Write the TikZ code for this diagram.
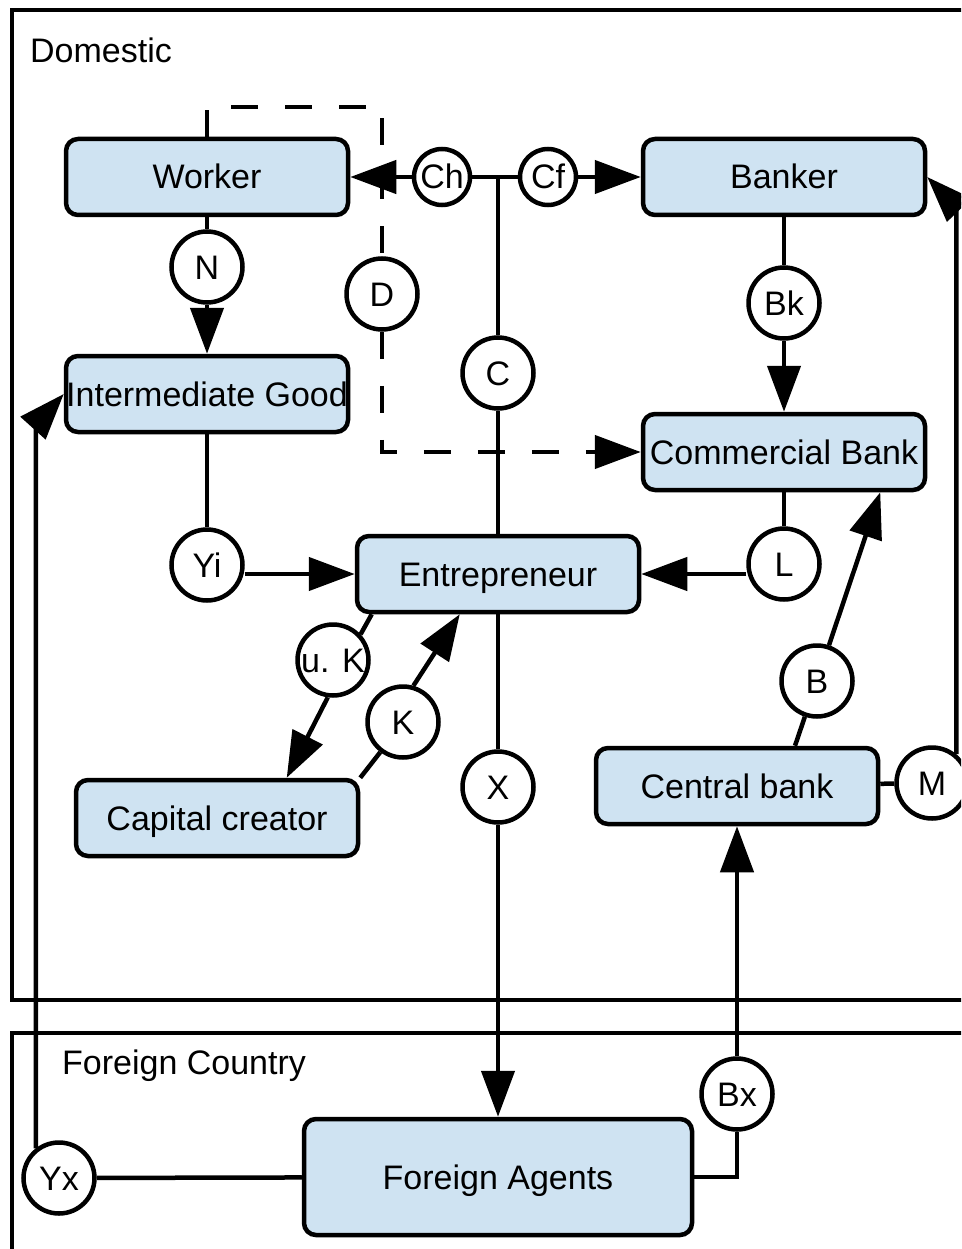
\documentclass[tikz,border=0pt]{standalone}
\usepackage{fontspec}
\setmainfont{Liberation Sans}
\usetikzlibrary{arrows.meta}
\definecolor{agent fill}{RGB}{207,227,242}
\tikzset{agent/.style={draw, line width=4.5pt, rounded corners=12pt, fill=agent fill,
      minimum width=282pt, minimum height=76pt, inner sep=0pt, text height=24pt, text depth=0pt},
    flow/.style={draw, circle, line width=4.5pt, fill=white, inner sep=0pt, minimum size=71pt,
      text height=24pt, text depth=0pt},
    small flow/.style={flow, minimum size=56pt},
    link/.style={line width=4.5pt},
    arrowed/.style={-{Triangle[length=46pt,width=33pt]}},
    dashedlink/.style={link, dash pattern=on 27pt off 27pt},
    region/.style={line width=4.5pt},
    caption/.style={inner sep=0pt, anchor=base west}}

\begin{document}
\begin{tikzpicture}[x=1pt, y=-1pt, every node/.style={font=\fontsize{34pt}{40pt}\selectfont}]
\useasboundingbox (0,0) rectangle (961,1249);
\clip (0,0) rectangle (961,1249);

% the two economies
\draw[region] (12,10) rectangle (1000,1000);
\draw[region] (12,1033) rectangle (1000,1300);
\node[caption] (domestic) at (30,63) {Domestic};
\node[caption] (foreign) at (62,1074) {Foreign Country};

% agents
\node[agent] (worker) at (207,177) {Worker};
\node[agent] (banker) at (784,177) {Banker};
\node[agent] (intgood) at (207,394) {Intermediate Good};
\node[agent] (combank) at (784,452) {Commercial Bank};
\node[agent] (entre) at (498,574) {Entrepreneur};
\node[agent] (capital) at (217,818) {Capital creator};
\node[agent] (central) at (737,786) {Central bank};
\node[agent, minimum width=388pt, minimum height=116pt] (foreignagents) at (498,1177) {Foreign Agents};

% flows
\node[flow] (n) at (207,267) {N};
\node[flow] (d) at (382,294) {D};
\node[small flow] (ch) at (442,177) {Ch};
\node[small flow] (cf) at (548,177) {Cf};
\node[flow] (c) at (498,373) {C};
\node[flow] (bk) at (784,303) {Bk};
\node[flow] (yi) at (207,565) {Yi};
\node[flow] (l) at (784,564) {L};
\node[flow] (uk) at (333,660) {u. K};
\node[flow] (k) at (403,722) {K};
\node[flow] (b) at (817,681) {B};
\node[flow] (x) at (498,787) {X};
\node[flow] (m) at (932,783) {M};
\node[flow] (bx) at (737,1094) {Bx};
\node[flow] (yx) at (59,1178) {Yx};

% connectors
\coordinate (dtop) at (382,107);
\coordinate (dbot) at (382,452);
\draw[dashedlink] (worker.north) -- (worker.north |- dtop) -- (dtop) -- (d);
\draw[dashedlink, arrowed] (d) -- (dbot) -- (combank);

\coordinate (csplit) at (498,177);
\draw[link] (entre) -- (c) -- (csplit);
\draw[link, arrowed] (csplit) -- (ch) -- (worker);
\draw[link, arrowed] (csplit) -- (cf) -- (banker);

\draw[link, arrowed] (worker) -- (n) -- (intgood);
\draw[link, arrowed] (banker) -- (bk) -- (combank);
\draw[link] (intgood) -- (yi);
\draw[link, arrowed] (yi.east |- entre.west) -- (entre.west);
\draw[link] (combank) -- (l);
\draw[link, arrowed] (l.west |- entre.east) -- (entre.east);

\draw[link] ([xshift=17pt]entre.south west) -- (uk.43);
\draw[link, arrowed] (uk.262) -- ([xshift=213pt]capital.north west);
\draw[link] (capital.north east) -- (k.233);
\draw[link, arrowed] (k.74) -- ([xshift=105pt]entre.south west);

\draw[link, arrowed] (entre) -- (x) -- (foreignagents);
\coordinate (bxturn) at (737,1177);
\draw[link] (foreignagents.east) -- (bxturn) -- (bx);
\draw[link, arrowed] (bx) -- (central);
\draw[link, arrowed] ([xshift=58pt]central.north) -- (b) -- ([xshift=-47pt]combank.south east);

\draw[link] (central) -- (m);
\coordinate (mturn) at (957,207);
\draw[link, arrowed] (m.50) -- (m.50 |- mturn) -- (banker.east);

\coordinate (yxturn) at (35,425);
\draw[link] (foreignagents) -- (yx);
\draw[link, arrowed] (yx.128) -- (yx.128 |- yxturn) -- (intgood.west);
\end{tikzpicture}
\end{document}
